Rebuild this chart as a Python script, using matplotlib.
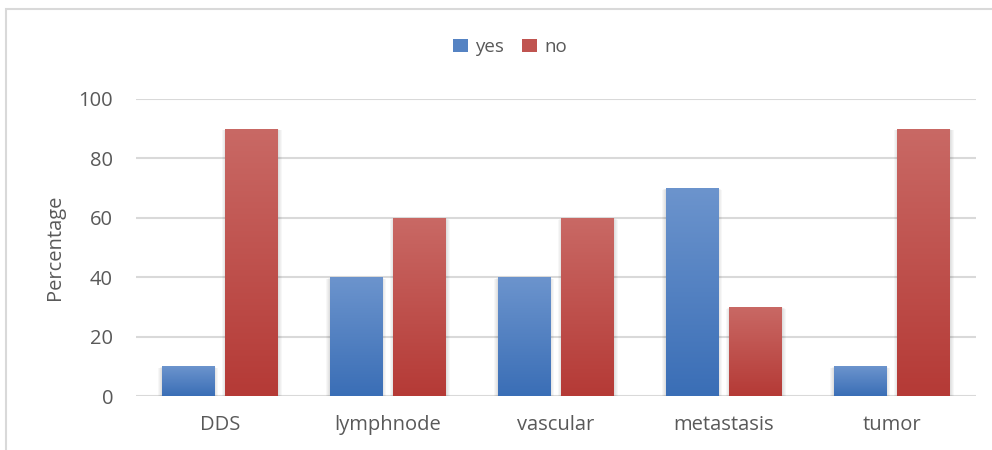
import numpy as np
import matplotlib
matplotlib.use("Agg")
import matplotlib.pyplot as plt
from matplotlib.colors import LinearSegmentedColormap
from matplotlib.patches import Rectangle

categories = ["DDS", "lymphnode", "vascular", "metastasis", "tumor"]
yes_vals = [10, 40, 40, 70, 10]
no_vals = [90, 60, 60, 30, 90]
series_names = ["yes", "no"]

plt.rcParams['font.family'] = ['Open Sans', 'DejaVu Sans']

fig = plt.figure(figsize=(9.92, 4.5), dpi=100)
ax = fig.add_axes([136 / 992, 54 / 450, 840 / 992, 297 / 450])

# gradient colour maps (bottom -> top)
blue_cm = LinearSegmentedColormap.from_list("b", ["#3A6EB6", "#6C94CD"])
red_cm = LinearSegmentedColormap.from_list("r", ["#B53A36", "#C96965"])

x = np.arange(len(categories))
width = 0.315
offset = 0.19
grad = np.linspace(0, 1, 256).reshape(-1, 1)

for vals, shift, cm, name in [(yes_vals, -offset, blue_cm, series_names[0]),
                              (no_vals, offset, red_cm, series_names[1])]:
    bars = ax.bar(x + shift, vals, width, color=cm(0.5), label=name, zorder=3, linewidth=0)
    for b in bars:
        bx, by = b.get_x(), b.get_y()
        bw, bh = b.get_width(), b.get_height()
        # soft shadow on the sides
        for k in range(1, 5):
            ax.add_patch(Rectangle((bx - 0.005 * k, by - 0.15 * k), bw + 0.01 * k, bh,
                                   color="black", alpha=0.03, lw=0, zorder=2))
        im = ax.imshow(grad, cmap=cm, origin="lower", aspect="auto",
                       extent=[bx, bx + bw, by, by + bh], zorder=4)
        im.set_clip_path(b)

ax.set_xlim(-0.5, len(categories) - 0.5)
ax.set_ylim(0, 100)
ax.set_yticks(np.arange(0, 101, 20))
ax.set_xticks(x)
ax.set_xticklabels(categories)
ax.yaxis.grid(True, color="#D9D9D9", linewidth=1.5, zorder=0)
ax.set_axisbelow(True)
for s in ax.spines.values():
    s.set_visible(False)
ax.tick_params(axis="both", length=0, colors="#595959", labelsize=14.5)
ax.tick_params(axis="y", pad=16.5)
ax.tick_params(axis="x", pad=14)
ax.set_ylabel("Percentage", color="#595959", fontsize=14.5, labelpad=10)

leg = ax.legend(loc="center", bbox_to_anchor=(510 / 992, 403 / 450), bbox_transform=fig.transFigure,
                ncol=2, frameon=False, fontsize=13.5, handlelength=0.8, handleheight=0.75,
                handletextpad=0.35, columnspacing=1.0)
for t in leg.get_texts():
    t.set_color("#595959")
for h, cm in zip(leg.legend_handles, [blue_cm, red_cm]):
    h.set_color(cm(0.55))

# chart border (top and left visible)
fig.patches.append(Rectangle((6 / 992, -0.1), 1.2, (441 / 450) + 0.1, transform=fig.transFigure,
                             fill=False, edgecolor="#D9D9D9", linewidth=1.5))

fig.savefig("out.png", dpi=100)
